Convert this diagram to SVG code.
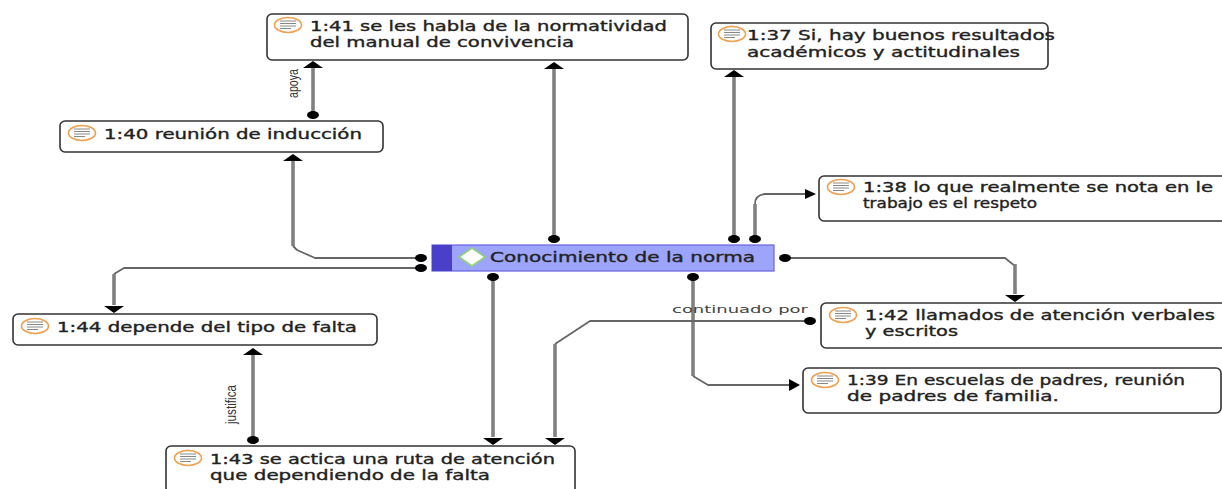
<svg xmlns="http://www.w3.org/2000/svg" width="1222" height="489" viewBox="0 0 1222 489">
<style>
.n{fill:#fff;stroke:#333;stroke-width:1.6}
.t{font-family:"DejaVu Sans",sans-serif;font-size:14px;fill:#222;stroke:#222;stroke-width:.35}
.l{font-family:"DejaVu Sans",sans-serif;font-size:11px;fill:#444}
.v{font-family:"Liberation Sans",sans-serif;font-size:14px;fill:#333}
.c{fill:none;stroke:#808080;stroke-linejoin:round}
.w{stroke-width:3.6}
.s{stroke-width:1.8;stroke:#666}
.a{fill:#000}
.ic{fill:#fff;stroke:#f0a050;stroke-width:1.6}
.il{stroke:#888;stroke-width:1;fill:none}
</style>
<defs>
<g id="i"><ellipse class="ic" cx="0" cy="0" rx="13.500" ry="7.500"/><path class="il" d="M-8-4H8M-8-1.500H8M-8 1H8M-8 3.500H3"/></g>
<path id="u" class="a" d="M0-5 10 2H-10Z"/>
<path id="d" class="a" d="M0 5 10-2H-10Z"/>
<ellipse id="o" class="a" cx="0" cy="0" rx="6" ry="4"/>
</defs>
<rect width="1222" height="489" fill="#fff"/>
<g id="connectors">
<path class="c w" d="M313 68V115"/><use href="#u" x="313" y="66"/><use href="#o" x="313" y="115"/>
<path class="c w" d="M293 160V246"/><path class="c s" d="M293 246 297 250 315 258H421"/><use href="#u" x="293" y="159"/><use href="#o" x="421" y="258"/>
<path class="c w" d="M554 68V239"/><use href="#u" x="554" y="67"/><use href="#o" x="554" y="239"/>
<path class="c w" d="M734 76V239"/><use href="#u" x="734" y="75"/><use href="#o" x="734" y="239"/>
<path class="c w" d="M755 239V204"/><path class="c s" d="M755 204Q755 195 765 194H806"/><path class="a" d="M816 194 805 189V199Z"/><use href="#o" x="755" y="239"/>
<path class="c s" d="M785 258H1005L1015 266"/><path class="c w" d="M1015 264V294"/><use href="#d" x="1015" y="297"/><use href="#o" x="785" y="258"/>
<path class="c s" d="M421 268H124L114 274"/><path class="c w" d="M114 274V305"/><use href="#d" x="114" y="308"/><use href="#o" x="421" y="268"/>
<path class="c w" d="M493 277V437"/><use href="#d" x="493" y="440"/><use href="#o" x="493" y="277"/>
<path class="c w" d="M693 277V376"/><path class="c s" d="M693 376 708 385H792"/><path class="a" d="M800 385 789 379V391Z"/><use href="#o" x="693" y="277"/>
<path class="c s" d="M810 321H590L555 344"/><path class="c w" d="M555 344V437"/><use href="#d" x="555" y="440"/><use href="#o" x="810" y="321"/>
<path class="c w" d="M253 355V440"/><use href="#u" x="253" y="353"/><use href="#o" x="253" y="440"/>
<text class="l" x="672" y="313" textLength="136" lengthAdjust="spacingAndGlyphs">continuado por</text>
<text class="v" transform="translate(298 98) rotate(-90)" textLength="29" lengthAdjust="spacingAndGlyphs">apoya</text>
<text class="v" transform="translate(236 424) rotate(-90)" textLength="39" lengthAdjust="spacingAndGlyphs">justifica</text>
</g>
<g id="n141"><rect class="n" x="267" y="14" width="421" height="46" rx="5"/><use href="#i" x="288" y="25"/><text class="t" x="310" y="31" textLength="357" lengthAdjust="spacingAndGlyphs">1:41 se les habla de la normatividad</text><text class="t" x="310" y="47" textLength="264" lengthAdjust="spacingAndGlyphs">del manual de convivencia</text></g>
<g id="n140"><rect class="n" x="60" y="121" width="323" height="31" rx="5"/><use href="#i" x="82" y="133"/><text class="t" x="104" y="139" textLength="258" lengthAdjust="spacingAndGlyphs">1:40 reunión de inducción</text></g>
<g id="n137"><rect class="n" x="711" y="23" width="337" height="46" rx="5"/><use href="#i" x="732" y="34"/><text class="t" x="747" y="40" textLength="308" lengthAdjust="spacingAndGlyphs">1:37 Si, hay buenos resultados</text><text class="t" x="747" y="57" textLength="273" lengthAdjust="spacingAndGlyphs">académicos y actitudinales</text></g>
<g id="n138"><rect class="n" x="819" y="176" width="410" height="45" rx="5"/><use href="#i" x="841" y="187"/><text class="t" x="863" y="192" textLength="350" lengthAdjust="spacingAndGlyphs">1:38 lo que realmente se nota en le</text><text class="t" x="863" y="208" textLength="174" lengthAdjust="spacingAndGlyphs">trabajo es el respeto</text></g>
<g id="main"><rect x="432" y="245" width="342" height="26" fill="#9da5fb" stroke="#6a62e0" stroke-width="1.2"/><rect x="432" y="245" width="20" height="26" fill="#4a3fc8"/><path d="M472 248 485 257 472 266 459 257Z" fill="#fff" stroke="#8fd07a" stroke-width="1.6"/><text class="t" x="490" y="262" textLength="265" lengthAdjust="spacingAndGlyphs">Conocimiento de la norma</text></g>
<g id="n142"><rect class="n" x="821" y="303" width="410" height="45" rx="5"/><use href="#i" x="843" y="315"/><text class="t" x="865" y="320" textLength="350" lengthAdjust="spacingAndGlyphs">1:42 llamados de atención verbales</text><text class="t" x="865" y="336" textLength="93" lengthAdjust="spacingAndGlyphs">y escritos</text></g>
<g id="n139"><rect class="n" x="803" y="368" width="418" height="45" rx="5"/><use href="#i" x="825" y="380"/><text class="t" x="847" y="385" textLength="338" lengthAdjust="spacingAndGlyphs">1:39 En escuelas de padres, reunión</text><text class="t" x="847" y="401" textLength="212" lengthAdjust="spacingAndGlyphs">de padres de familia.</text></g>
<g id="n144"><rect class="n" x="13" y="314" width="364" height="31" rx="5"/><use href="#i" x="35" y="326"/><text class="t" x="57" y="332" textLength="300" lengthAdjust="spacingAndGlyphs">1:44 depende del tipo de falta</text></g>
<g id="n143"><rect class="n" x="166" y="446" width="409" height="60" rx="5"/><use href="#i" x="188" y="458"/><text class="t" x="210" y="464" textLength="345" lengthAdjust="spacingAndGlyphs">1:43 se actica una ruta de atención</text><text class="t" x="210" y="480" textLength="280" lengthAdjust="spacingAndGlyphs">que dependiendo de la falta</text></g>
</svg>
